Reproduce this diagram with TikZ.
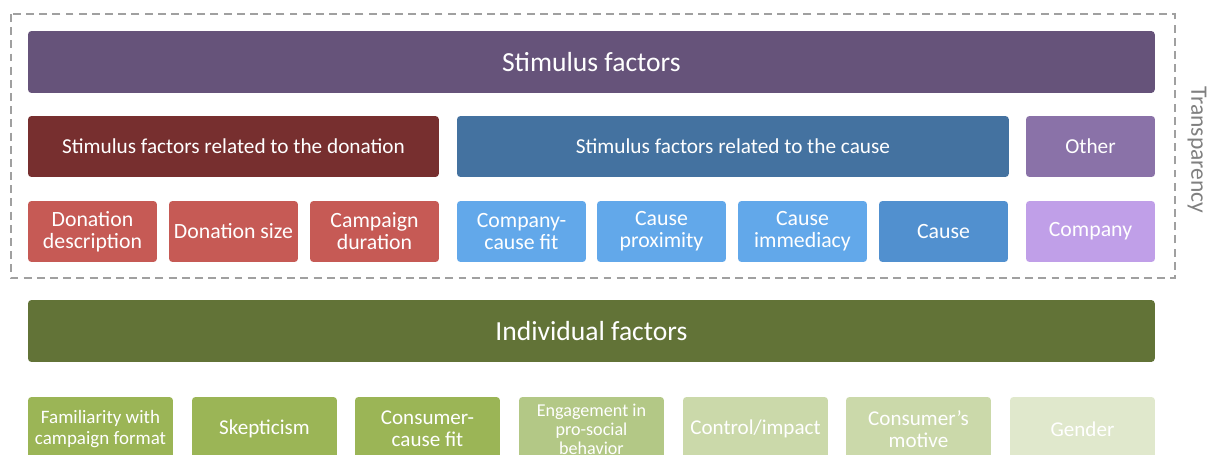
\documentclass[tikz,border=0pt]{standalone}
\usepackage{fontspec}
\setmainfont{Carlito}
\definecolor{stimColor}{RGB}{102,83,122}
\definecolor{donColor}{RGB}{119,47,47}
\definecolor{donLight}{RGB}{198,90,85}
\definecolor{causeColor}{RGB}{68,114,160}
\definecolor{causeLight}{RGB}{98,168,234}
\definecolor{causeMid}{RGB}{81,144,207}
\definecolor{otherColor}{RGB}{138,114,168}
\definecolor{otherLight}{RGB}{192,159,232}
\definecolor{indColor}{RGB}{98,115,55}
\definecolor{indLight}{RGB}{155,181,86}
\definecolor{indPale}{RGB}{179,200,134}
\definecolor{indPaler}{RGB}{203,217,170}
\definecolor{indPalest}{RGB}{224,232,204}
\definecolor{frameColor}{RGB}{160,160,160}

\begin{document}
\begin{tikzpicture}[
    x=0.02cm, y=-0.02cm,
    every node/.style={text=white, inner sep=0pt, outer sep=0pt, align=center},
    factor box/.style={rounded corners=2pt, anchor=north west, minimum height=1.22cm},
    header box/.style={factor box, minimum width=22.54cm, minimum height=1.24cm, font=\fontsize{15.7}{18}\selectfont},
    group box/.style={factor box, font=\fontsize{12.1}{13.5}\selectfont},
    item box/.style={factor box, minimum width=2.58cm, font=\fontsize{12.4}{12.6}\selectfont},
    person box/.style={factor box, minimum width=2.9cm, minimum height=1.28cm, font=\fontsize{12}{12.6}\selectfont}
]
    \clip (0,0) rectangle (1207,454);

    % frame round the stimulus factors
    \draw[frameColor, line width=0.8pt, dash pattern=on 4.5pt off 3pt] (11,14) rectangle (1175,278);
    \node[rotate=-90, text=gray, font=\fontsize{13.4}{15}\selectfont] (transp) at (1197,150) {Transparency};

    \node[header box, fill=stimColor] (stim) at (28,31) {Stimulus factors};

    \node[group box, fill=donColor, minimum width=8.22cm] (don) at (28,116) {Stimulus factors related to the donation};
    \node[group box, fill=causeColor, minimum width=11.04cm] (cause) at (457,116) {Stimulus factors related to the cause};
    \node[group box, fill=otherColor, minimum width=2.58cm] (other) at (1026,116) {Other};

    \node[item box, fill=donLight] (don_desc) at (28,201) {Donation\\description};
    \node[item box, fill=donLight] (don_size) at (169,201) {Donation size};
    \node[item box, fill=donLight] (camp_dur) at (310,201) {Campaign\\duration};
    \node[item box, fill=causeLight] (comp_fit) at (457,201) {Company-\\cause fit};
    \node[item box, fill=causeLight] (cause_prox) at (597,201) {Cause\\proximity};
    \node[item box, fill=causeLight] (cause_imm) at (738,201) {Cause\\immediacy};
    \node[item box, fill=causeMid] (cause_item) at (879,201) {Cause};
    \node[item box, fill=otherLight] (company) at (1026,201) {Company};

    \node[header box, fill=indColor] (ind) at (28,300) {Individual factors};

    \node[person box, fill=indLight, font=\fontsize{10.8}{12.4}\selectfont] (famil) at (28,397) {Familiarity with\\campaign format};
    \node[person box, fill=indLight] (skept) at (192,397) {Skepticism};
    \node[person box, fill=indLight] (cons_fit) at (355,397) {Consumer-\\cause fit};
    \node[person box, fill=indPale, font=\fontsize{10.3}{10.9}\selectfont] (engage) at (519,397) {Engagement in\\pro-social\\behavior};
    \node[person box, fill=indPaler] (control) at (683,397) {Control/impact};
    \node[person box, fill=indPaler] (motive) at (846,397) {Consumer's\\motive};
    \node[person box, fill=indPalest] (gender) at (1010,397) {Gender};
\end{tikzpicture}
\end{document}
